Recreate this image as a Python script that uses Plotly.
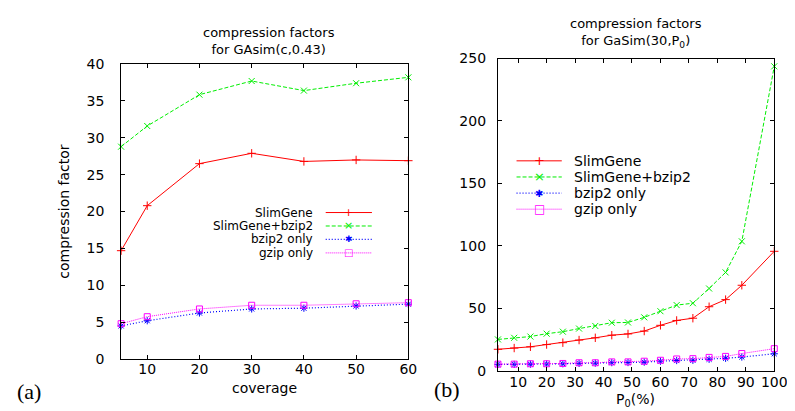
import plotly.graph_objects as go

# ---------------- data ----------------
coverage = [5, 10, 20, 30, 40, 50, 60]
slimgene_a = [14.7, 20.8, 26.5, 27.9, 26.8, 27.0, 26.9]
slimgene_bzip2_a = [28.8, 31.6, 35.85, 37.7, 36.4, 37.4, 38.2]
bzip2_a = [4.5, 5.2, 6.25, 6.8, 6.9, 7.2, 7.45]
gzip_a = [4.8, 5.75, 6.8, 7.3, 7.3, 7.5, 7.65]

p0 = [2.9, 8.6, 14.3, 20.0, 25.7, 31.4, 37.1, 42.9, 48.6, 54.3,
      60.0, 65.7, 71.4, 77.1, 82.9, 88.6, 100.0]
slimgene_b = [17.1, 18.1, 19.1, 20.9, 22.4, 24.5, 26.3, 28.4, 29.4, 31.7,
              36.3, 40.2, 42.0, 51.2, 56.9, 68.4, 95.6]
slimgene_bzip2_b = [25.0, 26.3, 27.3, 29.6, 31.2, 33.7, 35.8, 38.4, 38.6, 42.7,
                    47.6, 52.5, 54.0, 65.8, 78.7, 103.6, 243.8]
bzip2_b = [5.0, 5.0, 5.2, 5.3, 5.5, 5.8, 6.0, 6.4, 6.5, 6.8,
           7.55, 8.1, 8.3, 9.1, 9.9, 10.9, 13.5]
gzip_b = [5.2, 5.2, 5.5, 5.5, 5.75, 6.3, 6.3, 7.0, 7.0, 7.55,
          8.3, 9.35, 9.6, 10.6, 11.4, 13.7, 17.6]

series_names = ["SlimGene", "SlimGene+bzip2", "bzip2 only", "gzip only"]
left_xticks = [10, 20, 30, 40, 50, 60]
right_xticks = [10, 20, 30, 40, 50, 60, 70, 80, 90, 100]

# ---------------- styles ----------------
W, H = 795, 411
FONT = "DejaVu Sans"
styles = [
    dict(color="#ff0000", dash="solid", symbol="cross-thin-open", lw=1.0),
    dict(color="#00ee00", dash="4px,2px", symbol="x-thin-open", lw=1.0),
    dict(color="#0000ff", dash="1px,2px", symbol="asterisk-open", lw=1.2),
    dict(color="#ff00ff", dash="1px,1px", symbol="square-open", lw=1.0),
]


def px(x):
    return x / W


def py(y):
    return 1 - y / H


fig = go.Figure()

left_data = [slimgene_a, slimgene_bzip2_a, bzip2_a, gzip_a]
right_data = [slimgene_b, slimgene_bzip2_b, bzip2_b, gzip_b]

for xs, data, xa, ya in [(coverage, left_data, "x", "y"), (p0, right_data, "x2", "y2")]:
    for name, ys, st in zip(series_names, data, styles):
        fig.add_trace(go.Scatter(
            x=xs, y=ys, name=name, mode="lines+markers",
            line=dict(color=st["color"], dash=st["dash"], width=st["lw"]),
            marker=dict(symbol=st["symbol"], size=6, color=st["color"],
                        line=dict(width=1, color=st["color"])),
            xaxis=xa, yaxis=ya, showlegend=False, cliponaxis=False))

axis_common = dict(
    showline=True, linecolor="black", linewidth=1, mirror="ticks",
    ticks="inside", ticklen=4, tickcolor="black", tickwidth=1,
    showgrid=False, zeroline=False,
    tickfont=dict(family=FONT, size=14, color="black"),
)

fig.update_layout(
    width=W, height=H,
    margin=dict(l=0, r=0, t=0, b=0),
    paper_bgcolor="white", plot_bgcolor="white",
    font=dict(family=FONT, size=14, color="black"),
    showlegend=False,
    xaxis=dict(domain=[px(115), px(407)], range=[5, 60], tickvals=left_xticks,
               anchor="y", ticklabelstandoff=-3, **axis_common),
    yaxis=dict(domain=[py(357), py(50)], range=[0, 40], dtick=5,
               anchor="x", ticklabelstandoff=13, **axis_common),
    xaxis2=dict(domain=[px(498), px(779)], range=[2.86, 100], tickvals=right_xticks,
                anchor="y2", ticklabelstandoff=-1, **axis_common),
    yaxis2=dict(domain=[py(369), py(44.3)], range=[0, 250], dtick=50,
                anchor="x2", ticklabelstandoff=8, **axis_common),
)

ann = []
# titles (two lines each)
ann.append(dict(text="compression factors<br>for GAsim(c,0.43)", x=px(265), y=py(26.5), size=13))
ann.append(dict(text="compression factors<br>for GaSim(30,P<sub>0</sub>)", x=px(638), y=py(18), size=13))
# axis titles
ann.append(dict(text="coverage", x=px(261), y=py(387), size=14))
ann.append(dict(text="P<sub>0</sub>(%)", x=px(638), y=py(400), size=14))
ann.append(dict(text="compression factor", x=px(56), y=py(203.5), textangle=-90, size=14))
for a in ann:
    sz = a.pop("size")
    a.update(xref="paper", yref="paper", showarrow=False,
             xanchor="center", yanchor="middle",
             font=dict(family=FONT, size=sz, color="black"))
    fig.add_annotation(**a)

# panel labels
for lbl, xx, yy in [("(a)", 21.5, 391), ("(b)", 446, 389)]:
    fig.add_annotation(text=lbl, x=px(xx), y=py(yy), xref="paper", yref="paper",
                       showarrow=False, xanchor="center", yanchor="middle",
                       font=dict(family="Liberation Serif", size=22, color="black"))

# legends (drawn as keys + text)
glyphs = ["+", "×", "✱", "□"]


def add_legend(rows, text_x, text_anchor, key_x0, key_x1, fsize, gsizes):
    for name, st, g, gs, ry in zip(series_names, styles, glyphs, gsizes, rows):
        fig.add_annotation(text=name, x=px(text_x), y=py(ry), xref="paper", yref="paper",
                           showarrow=False, xanchor=text_anchor, yanchor="middle",
                           font=dict(family=FONT, size=fsize, color="black"))
        fig.add_shape(type="line", xref="paper", yref="paper",
                      x0=px(key_x0), x1=px(key_x1), y0=py(ry), y1=py(ry),
                      line=dict(color=st["color"], dash=st["dash"], width=st["lw"]))
        fig.add_annotation(text=g, x=px((key_x0 + key_x1) / 2), y=py(ry),
                           xref="paper", yref="paper",
                           showarrow=False, xanchor="center", yanchor="middle",
                           font=dict(family=FONT, size=gs, color=st["color"]))


add_legend([204.5, 218.5, 232.5, 246.5], 312, "right", 323, 370, 12, [11, 11, 9, 10])
add_legend([150.7, 167.5, 184.3, 201], 573, "left", 517, 563, 14, [13, 13, 10, 12])

fig.write_html("out.html")
